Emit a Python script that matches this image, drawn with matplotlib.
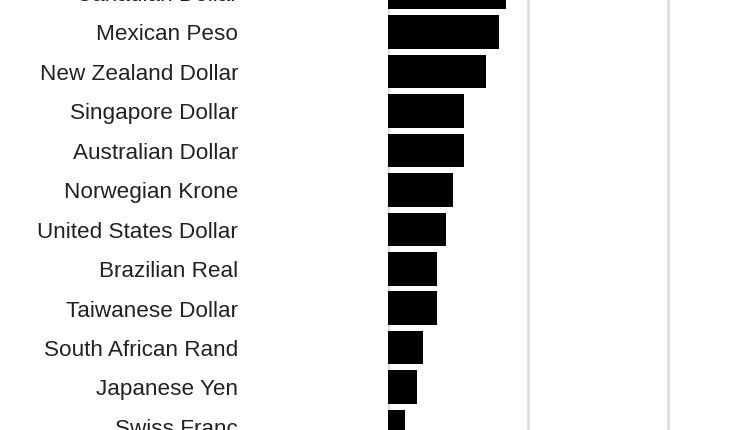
import matplotlib
matplotlib.use("Agg")
import matplotlib.pyplot as plt
import matplotlib.transforms as mtransforms

currencies = ["Canadian Dollar", "Mexican Peso", "New Zealand Dollar", "Singapore Dollar",
              "Australian Dollar", "Norwegian Krone", "United States Dollar", "Brazilian Real",
              "Taiwanese Dollar", "South African Rand", "Japanese Yen", "Swiss Franc"]
values = [8.4, 7.9, 7.0, 5.45, 5.45, 4.65, 4.15, 3.5, 3.5, 2.5, 2.1, 1.2]
grid_ticks = [0, 10, 20]

W, H = 750, 430
fig = plt.figure(figsize=(7.5, 4.3), dpi=100)
fig.patch.set_facecolor("white")
left_px = 388
ax = fig.add_axes([left_px / W, 0, 1 - left_px / W, 1])
ppu = 14.0
pitch = 39.44

ypos = list(range(len(currencies)))
ax.barh(ypos, values, height=0.85, color="black", zorder=3)

ax.set_xticks(grid_ticks)
ax.xaxis.grid(True, color="#dddddd", linewidth=2, zorder=0)
ax.tick_params(axis="x", length=0, labelbottom=False)
ax.set_yticks([])
for s in ax.spines.values():
    s.set_visible(False)

ax.set_xlim(0, (W - left_px) / ppu)
ax.set_ylim((H + 7.3) / pitch, 7.3 / pitch)

trans = mtransforms.blended_transform_factory(fig.transFigure, ax.transData)
offset = mtransforms.ScaledTranslation(0, -8.3 / 100, fig.dpi_scale_trans)
for y, name in zip(ypos, currencies):
    fig.text(238 / W, y, name, transform=trans + offset, ha="right", va="baseline",
             fontsize=16.2, color="#222222", family="Liberation Sans")

fig.savefig("out.png", dpi=100, facecolor="white")
